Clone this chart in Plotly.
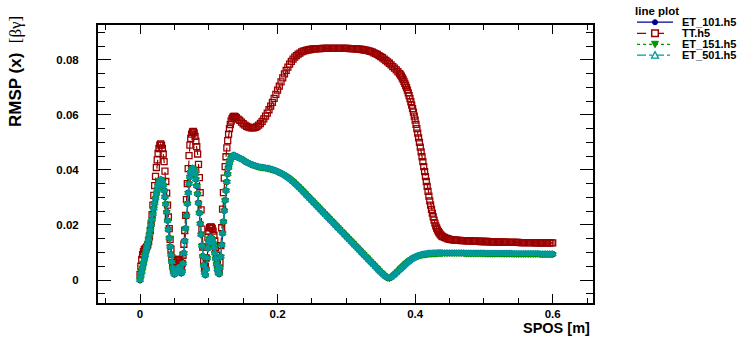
import plotly.graph_objects as go

# ---------------- data ----------------
# SPOS sample positions [m], in four pieces
spos_a = [
    0, 0.00125, 0.0025, 0.00375, 0.005, 0.00625, 0.0075, 0.00875,
    0.01, 0.01125, 0.0125, 0.01375, 0.015, 0.01625, 0.0175, 0.01875,
    0.02, 0.02125, 0.0225, 0.02375, 0.025, 0.02625, 0.0275, 0.02875,
    0.03, 0.03125, 0.0325, 0.03375, 0.035, 0.03625, 0.0375, 0.03875,
    0.04, 0.04125, 0.0425, 0.04375, 0.045, 0.04625, 0.0475, 0.04875,
    0.05, 0.05125, 0.0525, 0.05375, 0.055, 0.05625, 0.0575, 0.05875,
    0.06, 0.06125, 0.0625, 0.06375, 0.065, 0.06625, 0.0675, 0.06875,
    0.07, 0.07125, 0.0725, 0.07375, 0.075, 0.07625, 0.0775, 0.07875,
    0.08, 0.08125, 0.0825, 0.08375, 0.085, 0.08625, 0.0875, 0.08875,
    0.09, 0.09125, 0.0925, 0.09375, 0.095, 0.09625, 0.0975, 0.09875,
    0.1, 0.10125, 0.1025, 0.10375, 0.105, 0.10625, 0.1075, 0.10875,
    0.11, 0.11125, 0.1125, 0.11375, 0.115, 0.11625, 0.1175, 0.11875,
    0.12, 0.12125, 0.1225, 0.12375, 0.125, 0.12625, 0.1275, 0.12875,
    0.13, 0.13125, 0.1325, 0.13375, 0.135, 0.13625, 0.1375, 0.13875,
    0.14,
]
spos_b = [
    0.1425, 0.145, 0.1475, 0.15, 0.1525, 0.155, 0.1575, 0.16,
    0.1625, 0.165, 0.1675, 0.17, 0.1725, 0.175, 0.1775, 0.18,
    0.1825, 0.185, 0.1875, 0.19, 0.1925, 0.195, 0.1975, 0.2,
    0.2025, 0.205, 0.2075, 0.21, 0.2125, 0.215, 0.2175, 0.22,
    0.2225, 0.225, 0.2275, 0.23, 0.2325, 0.235, 0.2375, 0.24,
    0.2425, 0.245, 0.2475, 0.25, 0.2525, 0.255, 0.2575, 0.26,
    0.2625, 0.265, 0.2675, 0.27, 0.2725, 0.275, 0.2775, 0.28,
    0.2825, 0.285, 0.2875, 0.29, 0.2925, 0.295, 0.2975, 0.3,
    0.3025, 0.305, 0.3075, 0.31, 0.3125, 0.315, 0.3175, 0.32,
    0.3225, 0.325, 0.3275, 0.33, 0.3325, 0.335, 0.3375, 0.34,
    0.3425, 0.345, 0.3475, 0.35, 0.3525, 0.355, 0.3575, 0.36,
    0.3625, 0.365, 0.3675, 0.37, 0.3725, 0.375, 0.3775,
]
spos_c = [
    0.37875, 0.38, 0.38125, 0.3825, 0.38375, 0.385, 0.38625, 0.3875,
    0.38875, 0.39, 0.39125, 0.3925, 0.39375, 0.395, 0.39625, 0.3975,
    0.39875, 0.4, 0.40125, 0.4025, 0.40375, 0.405, 0.40625, 0.4075,
    0.40875, 0.41, 0.41125, 0.4125, 0.41375, 0.415, 0.41625, 0.4175,
    0.41875, 0.42, 0.42125, 0.4225, 0.42375, 0.425, 0.42625, 0.4275,
    0.42875, 0.43, 0.43125, 0.4325, 0.43375, 0.435, 0.43625, 0.4375,
    0.43875, 0.44,
]
spos_d = [
    0.4425, 0.445, 0.4475, 0.45, 0.4525, 0.455, 0.4575, 0.46,
    0.4625, 0.465, 0.4675, 0.47, 0.4725, 0.475, 0.4775, 0.48,
    0.4825, 0.485, 0.4875, 0.49, 0.4925, 0.495, 0.4975, 0.5,
    0.5025, 0.505, 0.5075, 0.51, 0.5125, 0.515, 0.5175, 0.52,
    0.5225, 0.525, 0.5275, 0.53, 0.5325, 0.535, 0.5375, 0.54,
    0.5425, 0.545, 0.5475, 0.55, 0.5525, 0.555, 0.5575, 0.56,
    0.5625, 0.565, 0.5675, 0.57, 0.5725, 0.575, 0.5775, 0.58,
    0.5825, 0.585, 0.5875, 0.59, 0.5925, 0.595, 0.5975, 0.6,
]

# TT.h5 RMSP(x)
tt_a = [
    0.0020, 0.0050, 0.0075, 0.0092, 0.0103, 0.0110, 0.0114, 0.0117,
    0.0121, 0.0128, 0.0140, 0.0157, 0.0180, 0.0207, 0.0238, 0.0272,
    0.0308, 0.0343, 0.0377, 0.0409, 0.0437, 0.0460, 0.0478, 0.0490,
    0.0495, 0.0490, 0.0478, 0.0458, 0.0430, 0.0396, 0.0358, 0.0316,
    0.0272, 0.0229, 0.0187, 0.0148, 0.0112, 0.0080, 0.0053, 0.0036,
    0.0033, 0.0045, 0.0060, 0.0070, 0.0075, 0.0075, 0.0070, 0.0060,
    0.0052, 0.0060, 0.0090, 0.0130, 0.0180, 0.0235, 0.0292, 0.0350,
    0.0405, 0.0452, 0.0490, 0.0515, 0.0530, 0.0538, 0.0540, 0.0535,
    0.0522, 0.0505, 0.0485, 0.0458, 0.0420, 0.0372, 0.0318, 0.0255,
    0.0185, 0.0120, 0.0070, 0.0045, 0.0050, 0.0080, 0.0120, 0.0155,
    0.0178, 0.0190, 0.0193, 0.0192, 0.0188, 0.0178, 0.0162, 0.0142,
    0.0118, 0.0090, 0.0062, 0.0040, 0.0032, 0.0065, 0.0125, 0.0190,
    0.0258, 0.0318, 0.0370, 0.0412, 0.0448, 0.0480, 0.0507, 0.0530,
    0.0550, 0.0565, 0.0578, 0.0587, 0.0592, 0.0595, 0.0595, 0.0593,
    0.0590,
]
tt_b = [
    0.0585, 0.0580, 0.0574, 0.0568, 0.0563, 0.0559, 0.0556, 0.0554,
    0.0553, 0.0553, 0.0555, 0.0558, 0.0563, 0.0569, 0.0577, 0.0586,
    0.0596, 0.0607, 0.0619, 0.0632, 0.0646, 0.0660, 0.0675, 0.0690,
    0.0705, 0.0720, 0.0735, 0.0749, 0.0762, 0.0774, 0.0785, 0.0795,
    0.0803, 0.0810, 0.0816, 0.0821, 0.0825, 0.0829, 0.0832, 0.0834,
    0.0836, 0.0837, 0.0838, 0.0839, 0.0840, 0.0840, 0.0841, 0.0841,
    0.0841, 0.0842, 0.0842, 0.0842, 0.0842, 0.0842, 0.0842, 0.0842,
    0.0842, 0.0842, 0.0842, 0.0842, 0.0842, 0.0842, 0.0842, 0.0842,
    0.0842, 0.0841, 0.0841, 0.0841, 0.0840, 0.0840, 0.0839, 0.0839,
    0.0838, 0.0837, 0.0836, 0.0835, 0.0833, 0.0831, 0.0829, 0.0826,
    0.0823, 0.0820, 0.0816, 0.0812, 0.0808, 0.0803, 0.0798, 0.0793,
    0.0788, 0.0782, 0.0776, 0.0770, 0.0764, 0.0757, 0.0750,
]
tt_c = [
    0.0746, 0.0741, 0.0735, 0.0729, 0.0722, 0.0715, 0.0707, 0.0699,
    0.0690, 0.0680, 0.0670, 0.0659, 0.0648, 0.0636, 0.0623, 0.0610,
    0.0596, 0.0581, 0.0566, 0.0550, 0.0534, 0.0517, 0.0500, 0.0483,
    0.0466, 0.0448, 0.0430, 0.0412, 0.0394, 0.0376, 0.0358, 0.0340,
    0.0322, 0.0305, 0.0288, 0.0272, 0.0257, 0.0243, 0.0230, 0.0218,
    0.0207, 0.0197, 0.0189, 0.0182, 0.0176, 0.0171, 0.0167, 0.0163,
    0.0160, 0.0158,
]
tt_d = [
    0.0155, 0.0152, 0.0150, 0.0148, 0.0147, 0.0146, 0.0145, 0.0145,
    0.0144, 0.0144, 0.0143, 0.0143, 0.0143, 0.0142, 0.0142, 0.0142,
    0.0142, 0.0141, 0.0141, 0.0141, 0.0141, 0.0140, 0.0140, 0.0140,
    0.0140, 0.0140, 0.0139, 0.0139, 0.0139, 0.0139, 0.0139, 0.0138,
    0.0138, 0.0138, 0.0138, 0.0138, 0.0138, 0.0137, 0.0137, 0.0137,
    0.0137, 0.0137, 0.0137, 0.0137, 0.0136, 0.0136, 0.0136, 0.0136,
    0.0136, 0.0136, 0.0136, 0.0136, 0.0136, 0.0135, 0.0135, 0.0135,
    0.0135, 0.0135, 0.0135, 0.0135, 0.0135, 0.0135, 0.0135, 0.0135,
]

# ET_*.h5 RMSP(x) (the three ET files overlap in the picture)
et_a = [
    0.0000, 0.0015, 0.0030, 0.0045, 0.0060, 0.0075, 0.0090, 0.0105,
    0.0120, 0.0135, 0.0150, 0.0166, 0.0183, 0.0201, 0.0220, 0.0240,
    0.0260, 0.0279, 0.0297, 0.0314, 0.0330, 0.0343, 0.0353, 0.0361,
    0.0365, 0.0364, 0.0357, 0.0344, 0.0325, 0.0302, 0.0276, 0.0247,
    0.0216, 0.0184, 0.0152, 0.0121, 0.0092, 0.0066, 0.0044, 0.0028,
    0.0021, 0.0025, 0.0033, 0.0040, 0.0044, 0.0044, 0.0040, 0.0032,
    0.0025, 0.0032, 0.0060, 0.0098, 0.0142, 0.0188, 0.0234, 0.0278,
    0.0317, 0.0350, 0.0375, 0.0392, 0.0402, 0.0406, 0.0405, 0.0398,
    0.0385, 0.0366, 0.0342, 0.0313, 0.0280, 0.0244, 0.0205, 0.0165,
    0.0125, 0.0087, 0.0053, 0.0027, 0.0018, 0.0040, 0.0080, 0.0115,
    0.0138, 0.0150, 0.0154, 0.0152, 0.0145, 0.0133, 0.0117, 0.0098,
    0.0078, 0.0058, 0.0040, 0.0026, 0.0022, 0.0045, 0.0085, 0.0128,
    0.0170, 0.0212, 0.0252, 0.0290, 0.0325, 0.0357, 0.0385, 0.0408,
    0.0425, 0.0437, 0.0445, 0.0450, 0.0452, 0.0453, 0.0452, 0.0450,
    0.0448,
]
et_b = [
    0.0446, 0.0443, 0.0440, 0.0436, 0.0432, 0.0428, 0.0425, 0.0422,
    0.0419, 0.0417, 0.0415, 0.0413, 0.0411, 0.0410, 0.0409, 0.0408,
    0.0407, 0.0406, 0.0405, 0.0403, 0.0401, 0.0399, 0.0397, 0.0394,
    0.0391, 0.0388, 0.0385, 0.0381, 0.0377, 0.0373, 0.0368, 0.0363,
    0.0358, 0.0352, 0.0346, 0.0340, 0.0334, 0.0328, 0.0321, 0.0315,
    0.0308, 0.0302, 0.0295, 0.0289, 0.0282, 0.0276, 0.0269, 0.0263,
    0.0256, 0.0250, 0.0243, 0.0237, 0.0230, 0.0224, 0.0217, 0.0211,
    0.0204, 0.0198, 0.0191, 0.0185, 0.0178, 0.0172, 0.0165, 0.0159,
    0.0152, 0.0146, 0.0139, 0.0133, 0.0126, 0.0120, 0.0113, 0.0107,
    0.0100, 0.0094, 0.0087, 0.0081, 0.0074, 0.0068, 0.0061, 0.0055,
    0.0048, 0.0042, 0.0035, 0.0029, 0.0023, 0.0017, 0.0012, 0.0008,
    0.0007, 0.0010, 0.0015, 0.0020, 0.0026, 0.0032, 0.0038,
]
et_c = [
    0.0041, 0.0044, 0.0047, 0.0050, 0.0053, 0.0056, 0.0059, 0.0062,
    0.0064, 0.0067, 0.0069, 0.0072, 0.0074, 0.0076, 0.0078, 0.0080,
    0.0082, 0.0083, 0.0085, 0.0086, 0.0087, 0.0088, 0.0089, 0.0090,
    0.0091, 0.0092, 0.0092, 0.0093, 0.0093, 0.0094, 0.0094, 0.0095,
    0.0095, 0.0096, 0.0096, 0.0096, 0.0096, 0.0097, 0.0097, 0.0097,
    0.0097, 0.0097, 0.0097, 0.0098, 0.0098, 0.0098, 0.0098, 0.0098,
    0.0098, 0.0098,
]
et_d = [
    0.0098, 0.0098, 0.0098, 0.0098, 0.0098, 0.0098, 0.0098, 0.0098,
    0.0098, 0.0098, 0.0098, 0.0098, 0.0097, 0.0097, 0.0097, 0.0097,
    0.0097, 0.0097, 0.0097, 0.0097, 0.0097, 0.0097, 0.0097, 0.0097,
    0.0096, 0.0096, 0.0096, 0.0096, 0.0096, 0.0096, 0.0096, 0.0096,
    0.0096, 0.0096, 0.0096, 0.0096, 0.0096, 0.0096, 0.0096, 0.0096,
    0.0095, 0.0095, 0.0095, 0.0095, 0.0095, 0.0095, 0.0095, 0.0095,
    0.0095, 0.0095, 0.0095, 0.0095, 0.0095, 0.0095, 0.0095, 0.0095,
    0.0094, 0.0094, 0.0094, 0.0094, 0.0094, 0.0094, 0.0094, 0.0094,
]

spos = spos_a + spos_b + spos_c + spos_d
tt_h5 = tt_a + tt_b + tt_c + tt_d
et_h5 = et_a + et_b + et_c + et_d
assert len(spos) == len(tt_h5) == len(et_h5)

series_names = ["ET_101.h5", "TT.h5", "ET_151.h5", "ET_501.h5"]
series_values = [et_h5, tt_h5, et_h5, et_h5]
x_tick_vals = [0, 0.2, 0.4, 0.6]
x_tick_text = ["0", "0.2", "0.4", "0.6"]
y_tick_vals = [0, 0.02, 0.04, 0.06, 0.08]
y_tick_text = ["0", "0.02", "0.04", "0.06", "0.08"]

# ---------------- styles ----------------
colors = ["#000099", "#990000", "#009900", "#009999"]
dashes = ["solid", "dash", "dot", "dashdot"]
symbols = ["circle", "square-open", "triangle-down", "triangle-up"]
msizes = [5, 6, 6, 6]

W, H = 743, 337
ML, MR, MT, MB = 98, 150, 25, 34
PW, PH = W - ML - MR, H - MT - MB
FONT = "Liberation Sans, Arial, Helvetica, sans-serif"

fig = go.Figure()
for name, vals, c, d, s, ms in zip(series_names, series_values, colors, dashes, symbols, msizes):
    fig.add_trace(go.Scatter(
        x=spos, y=vals, name=name, mode="lines+markers",
        line=dict(color=c, width=1.2, dash=d),
        marker=dict(symbol=s, size=ms, color=c, line=dict(color=c, width=1.3)),
        showlegend=False,
    ))

axis_common = dict(
    showline=True, linecolor="black", linewidth=2, mirror="allticks",
    ticks="inside", tickcolor="black", tickwidth=1.3,
    showgrid=False, zeroline=False,
    tickfont=dict(family=FONT, size=11.5, color="black", weight="bold"),
)
fig.update_xaxes(
    range=[-0.0611, 0.6586], tickvals=x_tick_vals, ticktext=x_tick_text,
    ticklen=9, ticklabelstandoff=-1,
    minor=dict(ticks="inside", dtick=0.05, tick0=0, ticklen=5, tickcolor="black", tickwidth=1.3),
    **axis_common,
)
fig.update_yaxes(
    range=[-0.00836, 0.0927], tickvals=y_tick_vals, ticktext=y_tick_text,
    ticklen=13, ticklabelstandoff=15,
    minor=dict(ticks="inside", dtick=0.005, tick0=0, ticklen=7, tickcolor="black", tickwidth=1.3),
    **axis_common,
)

def px(xp):
    return (xp - ML) / PW

def py(yp):
    return (H - MB - yp) / PH

shapes = []
annotations = []

# axis titles
annotations.append(dict(
    xref="paper", yref="paper", x=px(16), y=py(72), xanchor="center", yanchor="middle",
    textangle=-90, showarrow=False,
    text="<b>RMSP (x)</b>  <span style='font-family:Liberation Serif, Times New Roman, serif'>[βγ]</span>",
    font=dict(family=FONT, size=17, color="black"),
))
annotations.append(dict(
    xref="paper", yref="paper", x=px(592), y=py(328.3), xanchor="right", yanchor="middle",
    showarrow=False, text="<b>SPOS [m]</b>",
    font=dict(family=FONT, size=14.5, color="black"),
))

# legend (drawn manually to match the compact ROOT-style box)
annotations.append(dict(
    xref="paper", yref="paper", x=px(657), y=py(10.5), xanchor="center", yanchor="middle",
    showarrow=False, text="<b>line plot</b>", font=dict(family=FONT, size=11.5, color="black"),
))
rows = [22.2, 33.3, 44.3, 55.2]
for i, (name, c, d) in enumerate(zip(series_names, colors, dashes)):
    yr = rows[i]
    shapes.append(dict(type="line", xref="paper", yref="paper",
                       x0=px(637), x1=px(673), y0=py(yr), y1=py(yr),
                       line=dict(color=c, width=1.3, dash=d)))
    annotations.append(dict(
        xref="paper", yref="paper", x=px(680), y=py(yr), xanchor="left", yanchor="middle",
        showarrow=False, text="<b>%s</b>" % name, font=dict(family=FONT, size=11, color="black"),
    ))
cx = 655
shapes.append(dict(type="circle", xref="paper", yref="paper",
                   x0=px(cx - 2.5), x1=px(cx + 2.5), y0=py(rows[0] + 2.5), y1=py(rows[0] - 2.5),
                   line=dict(color=colors[0], width=1), fillcolor=colors[0]))
shapes.append(dict(type="rect", xref="paper", yref="paper",
                   x0=px(cx - 3.3), x1=px(cx + 3.3), y0=py(rows[1] + 3.3), y1=py(rows[1] - 3.3),
                   line=dict(color=colors[1], width=1.5), fillcolor="white"))
r = rows[2]
shapes.append(dict(type="path", xref="paper", yref="paper",
                   path="M %f %f L %f %f L %f %f Z" % (px(cx - 3.5), py(r - 3), px(cx + 3.5), py(r - 3), px(cx), py(r + 3.5)),
                   line=dict(color=colors[2], width=1), fillcolor=colors[2]))
r = rows[3]
shapes.append(dict(type="path", xref="paper", yref="paper",
                   path="M %f %f L %f %f L %f %f Z" % (px(cx - 3.5), py(r + 3), px(cx + 3.5), py(r + 3), px(cx), py(r - 3.5)),
                   line=dict(color=colors[3], width=1.3), fillcolor="white"))

fig.update_layout(
    width=W, height=H,
    margin=dict(l=ML, r=MR, t=MT, b=MB, pad=0),
    paper_bgcolor="white", plot_bgcolor="white",
    showlegend=False,
    shapes=shapes, annotations=annotations,
    font=dict(family=FONT, color="black"),
)

fig.write_html("out.html")
